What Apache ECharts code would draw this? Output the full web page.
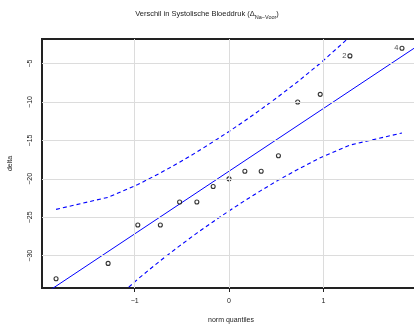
<!DOCTYPE html>
<html>
<head>
<meta charset="utf-8">
<script src="https://cdn.jsdelivr.net/npm/echarts@6/dist/echarts.min.js"></script>
<style>
  html, body { margin: 0; padding: 0; background: #fff; }
  #chart { width: 414px; height: 324px; }
</style>
</head>
<body>
<div id="chart"></div>
<script>
// Normal QQ plot of blood pressure differences, with reference line and 95% envelope
var normQuantiles = [-1.834, -1.282, -0.967, -0.728, -0.524, -0.341, -0.168, 0,
                     0.168, 0.341, 0.524, 0.728, 0.967, 1.282, 1.834];
var delta = [-33, -31, -26, -26, -23, -23, -21, -20, -19, -19, -17, -10, -9, -4, -3];
var pointIds = ['', '', '', '', '', '', '', '', '', '', '', '', '', '2', '4'];
var envelopeUpper = [-23.97, -22.40, -20.74, -19.23, -17.84, -16.50, -15.17, -13.83,
                     -12.43, -10.94, -9.28, -7.36, -4.96, -1.50, 5.93];
var envelopeLower = [-43.93, -36.50, -33.04, -30.64, -28.72, -27.06, -25.57, -24.17,
                     -22.83, -21.50, -20.16, -18.77, -17.26, -15.60, -14.03];
var refLineX = [-2, 2.1];
var refLineY = [-35.31, -1.88];
var xTicks = [-1, 0, 1];
var yTicks = [-30, -25, -20, -15, -10, -5];

function pairs(xs, ys) {
  return xs.map(function (x, i) { return [x, ys[i]]; });
}
function minus(v) {
  return String(v).replace('-', '\u2212');
}

var font = 'Liberation Sans, Arial, sans-serif';
var gridLines = xTicks.map(function (v) { return { xAxis: v }; })
  .concat(yTicks.map(function (v) { return { yAxis: v }; }));

var chart = echarts.init(document.getElementById('chart'), null, { renderer: 'canvas' });
chart.setOption({
  animation: false,
  title: {
    text: '{a|Verschil in Systolische Bloeddruk (Δ}{s|Na\u2212Voor}{a|)}',
    left: 'center',
    top: 3,
    textStyle: {
      fontWeight: 'normal',
      rich: {
        a: { fontFamily: font, fontSize: 7.5, fontWeight: 'normal', color: '#222', lineHeight: 12, verticalAlign: 'middle' },
        s: { fontFamily: font, fontSize: 5.5, fontWeight: 'normal', color: '#222', lineHeight: 8, verticalAlign: 'bottom' }
      }
    }
  },
  grid: {
    left: 42, top: 39, width: 378, height: 249,
    outerBoundsMode: 'none', containLabel: false,
    show: true, borderColor: '#222', borderWidth: 2, backgroundColor: 'transparent'
  },
  xAxis: {
    type: 'value', min: -1.983, max: 2.025,
    name: 'norm quantiles', nameLocation: 'middle', nameGap: 29,
    nameTextStyle: { fontFamily: font, fontSize: 7, color: '#222' },
    axisLine: { show: false },
    splitLine: { show: false },
    axisTick: { show: true, customValues: xTicks, length: 4, lineStyle: { color: '#222', width: 1 } },
    axisLabel: { customValues: xTicks, fontFamily: font, fontSize: 7, color: '#222', margin: 10,
                 formatter: minus }
  },
  yAxis: {
    type: 'value', min: -34.2, max: -1.8,
    name: 'delta', nameLocation: 'middle', nameGap: 28, nameRotate: 90,
    nameTextStyle: { fontFamily: font, fontSize: 7, color: '#222' },
    axisLine: { show: false },
    splitLine: { show: false },
    axisTick: { show: true, customValues: yTicks, length: 4, lineStyle: { color: '#222', width: 1 } },
    axisLabel: { customValues: yTicks, rotate: 90, fontFamily: font, fontSize: 7, color: '#222', margin: 8,
                 formatter: minus }
  },
  series: [
    {
      type: 'scatter', data: [], silent: true, z: 0,
      markLine: {
        silent: true, symbol: 'none', animation: false,
        label: { show: false },
        lineStyle: { color: '#dcdcdc', width: 1, type: 'solid' },
        data: gridLines
      }
    },
    {
      type: 'line', data: pairs(refLineX, refLineY), showSymbol: false, clip: true,
      lineStyle: { color: '#0000ff', width: 1 }, z: 3
    },
    {
      type: 'line', data: pairs(normQuantiles, envelopeUpper), showSymbol: false, clip: true,
      lineStyle: { color: '#0000ff', width: 1.1, type: [4, 3] }, z: 3
    },
    {
      type: 'line', data: pairs(normQuantiles, envelopeLower), showSymbol: false, clip: true,
      lineStyle: { color: '#0000ff', width: 1.1, type: [4, 3] }, z: 3
    },
    {
      type: 'scatter', symbol: 'circle', symbolSize: 4, z: 4,
      itemStyle: { color: '#ffffff', borderColor: '#000', borderWidth: 1.1 },
      label: {
        show: true, position: 'left', distance: 1,
        fontFamily: font, fontSize: 7.5, color: '#222',
        formatter: function (p) { return pointIds[p.dataIndex]; }
      },
      data: pairs(normQuantiles, delta)
    }
  ]
});
</script>
</body>
</html>
